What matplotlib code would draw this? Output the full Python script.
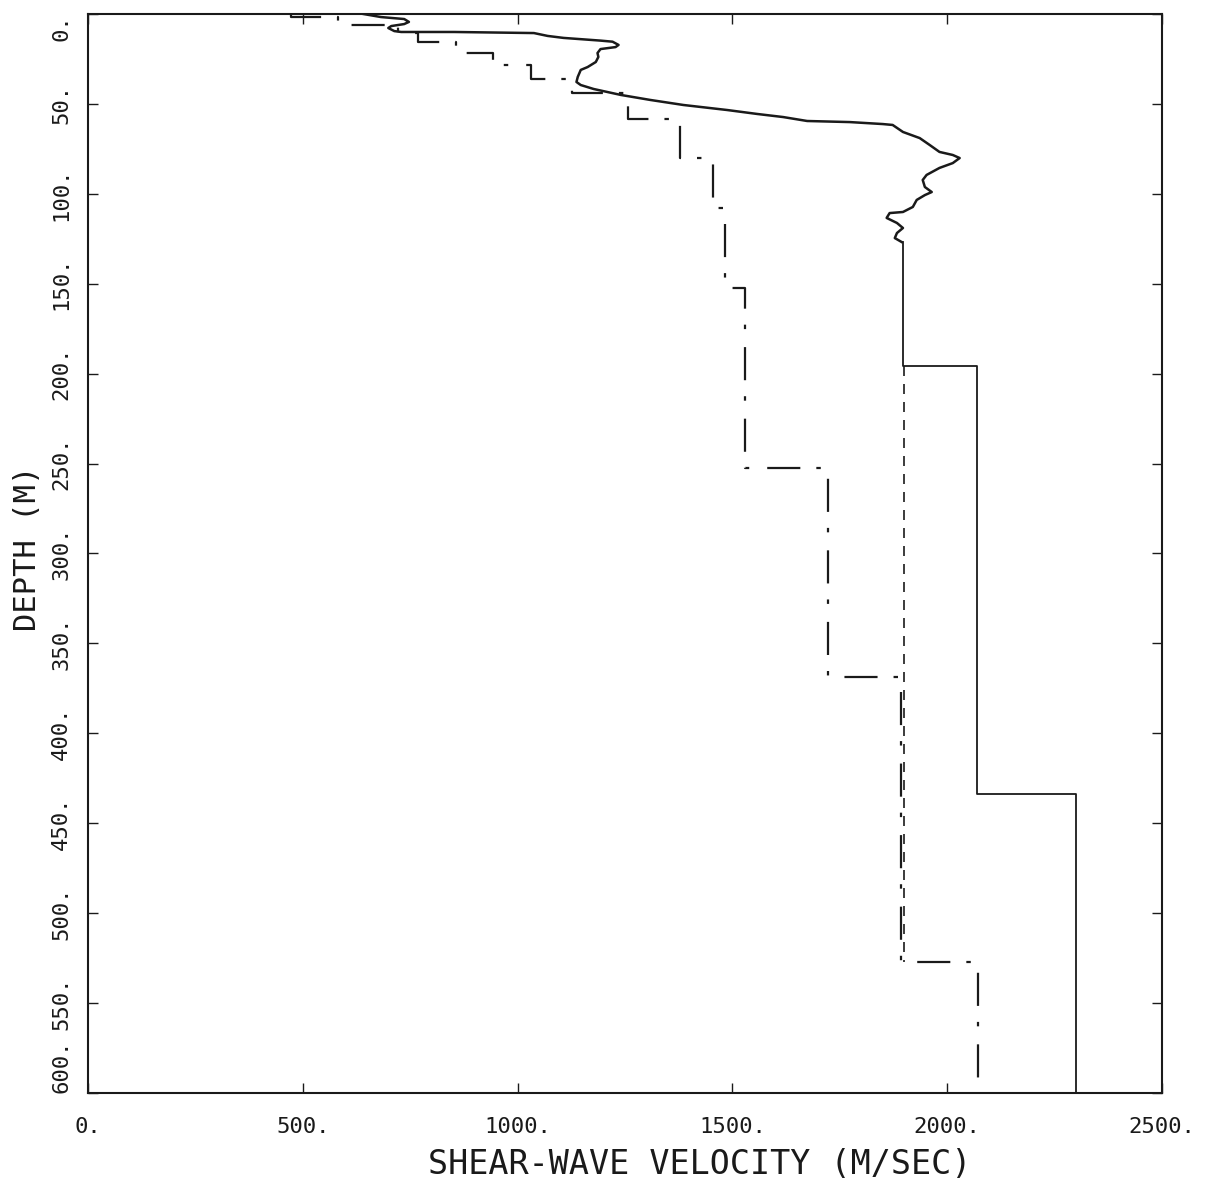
import numpy as np
import matplotlib
matplotlib.use("Agg")
import matplotlib.pyplot as plt

# measured shear-wave velocity profile (wiggly part), m/s and depth in m
meas_vel = [641, 682, 736, 747, 736, 706, 699, 713, 729, 852, 1038, 1070, 1107,
            1193, 1221, 1235, 1228, 1193, 1186, 1188, 1182, 1163, 1147, 1140, 1137,
            1147, 1177, 1240, 1309, 1386, 1488, 1558, 1618, 1674, 1773, 1850, 1873,
            1897, 1936, 1959, 1982, 2013, 2029, 2013, 1982, 1952, 1943, 1948, 1964,
            1948, 1929, 1920, 1897, 1866, 1859, 1883, 1897, 1883, 1878, 1894]
meas_depth = [0, 1.7, 2.8, 4.4, 5.6, 6.7, 7.8, 9.5, 10.0, 10.0, 10.6, 12.2, 13.3,
              14.8, 15.4, 17.2, 18.4, 19.5, 21.7, 23.9, 26.7, 29.5, 31.1, 35.0, 37.8,
              39.5, 41.7, 45.0, 47.8, 50.6, 53.4, 55.6, 57.3, 59.5, 60.1, 61.2, 61.7,
              65.6, 69.0, 72.8, 76.7, 78.4, 80.1, 82.9, 85.6, 89.5, 92.3, 96.2, 99.0,
              100.7, 103.4, 107.3, 110.1, 110.7, 113.4, 116.2, 119.0, 121.8, 124.6, 126.8]

# deeper layers below the measured part (solid)
deep_vel = [1897, 2070, 2300]
deep_top = [126.8, 196, 434]
deep_bot = [196, 434, 600]

# dashed extension
dash_vel = [1900]
dash_top = [196]
dash_bot = [527]

# layered model (dash-dot)
model_vel = [473, 583, 722, 768, 857, 942, 1031, 1126, 1258, 1377, 1455, 1483,
             1530, 1722, 1893, 2071]
model_top = [0, 1.7, 6.1, 10.6, 15.6, 21.7, 28.4, 36.1, 43.9, 58.4, 80.1, 108,
             152.4, 252.5, 368.7, 527]
model_bot = [1.7, 6.1, 10.6, 15.6, 21.7, 28.4, 36.1, 43.9, 58.4, 80.1, 108, 152.4,
             252.5, 368.7, 527, 600]

x_ticks = [0, 500, 1000, 1500, 2000, 2500]
x_labels = ["0.", "500.", "1000.", "1500.", "2000.", "2500."]
y_ticks = [0, 50, 100, 150, 200, 250, 300, 350, 400, 450, 500, 550, 600]
y_labels = ["0.", "50.", "100.", "150.", "200.", "250.", "300.", "350.", "400.",
            "450.", "500.", "550.", "600."]


def layer_path(vel, top, bot):
    # staircase through the layer boundaries
    xs, ys = [], []
    for v, t, b in zip(vel, top, bot):
        xs += [v, v]
        ys += [t, b]
    return xs, ys


plt.rcParams['font.family'] = 'DejaVu Sans Mono'

fig = plt.figure(figsize=(12.06, 11.84), dpi=100)
ax = fig.add_axes([0.07297, 0.07686, 0.89055, 0.91132])

ink = '#1a1a1a'

# measured profile
ax.plot(meas_vel, meas_depth, color=ink, lw=1.8, solid_joinstyle='round')
xs, ys = layer_path(deep_vel, deep_top, deep_bot)
ax.plot(xs, ys, color=ink, lw=1.3)

# dashed
xs, ys = layer_path(dash_vel, dash_top, dash_bot)
ax.plot(xs, ys, color=ink, lw=1.2, linestyle=(0, (6.0, 4.8)))

# dash-dot layered model
xs, ys = layer_path(model_vel, model_top, model_bot)
ax.plot(xs, ys, color=ink, lw=1.6, linestyle=(0, (14.9, 7.2, 2.0, 8.1)))

ax.set_xlim(0, 2500)
ax.set_ylim(600, 0)

ax.set_xticks(x_ticks)
ax.set_xticklabels(x_labels, fontsize=16)
ax.set_yticks(y_ticks)
ax.set_yticklabels(y_labels, fontsize=16, rotation=90, va='center', ha='right')

# first and last depth labels pushed inside the frame
ylabs = ax.get_yticklabels()
ylabs[0].set_va('top')
ylabs[-1].set_va('bottom')

ax.tick_params(axis='both', which='major', direction='in', top=True, right=True,
               length=7, width=1.0, colors=ink, labelcolor=ink)
ax.tick_params(axis='x', pad=17)
ax.tick_params(axis='y', pad=12)

for sp in ax.spines.values():
    sp.set_linewidth(1.5)
    sp.set_color(ink)

ax.set_xlabel("SHEAR-WAVE VELOCITY (M/SEC)", fontsize=24, color=ink, va='center')
ax.xaxis.set_label_coords(0.57, -0.0667)
ax.set_ylabel("DEPTH (M)", fontsize=22, color=ink, va='center', ha='center')
ax.yaxis.set_label_coords(-0.056, 0.505)

fig.savefig("out.png", dpi=100)
